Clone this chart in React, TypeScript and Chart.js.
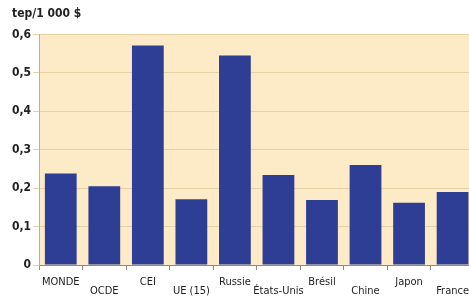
import React, { useEffect, useRef } from "react";
import { Chart, registerables } from "chart.js";

Chart.register(...registerables);

const categories = ["MONDE", "OCDE", "CEI", "UE (15)", "Russie", "États-Unis", "Brésil", "Chine", "Japon", "France"];
const values = [0.238, 0.205, 0.571, 0.171, 0.545, 0.234, 0.169, 0.26, 0.162, 0.19];
const yTicks = [0, 0.1, 0.2, 0.3, 0.4, 0.5, 0.6];
const unitLabel = "tep/1 000 $";

const FONT = "'Liberation Sans Narrow', 'DejaVu Sans Condensed', sans-serif";

const bgPlugin = {
  id: "plotBg",
  beforeDraw(chart: any) {
    const { ctx, chartArea } = chart;
    ctx.save();
    ctx.fillStyle = "#FCEBC6";
    ctx.fillRect(chartArea.left, chartArea.top, chartArea.right - chartArea.left, chartArea.bottom - chartArea.top);
    ctx.restore();
  },
};

export default function App() {
  const ref = useRef<HTMLCanvasElement | null>(null);
  useEffect(() => {
    if (!ref.current) return;
    const chart = new Chart(ref.current, {
      type: "bar",
      data: {
        labels: categories,
        datasets: [
          {
            data: values,
            backgroundColor: "#2D3E94",
            barPercentage: 0.73,
            categoryPercentage: 1,
          },
        ],
      },
      plugins: [bgPlugin],
      options: {
        responsive: false,
        animation: false,
        layout: { padding: { left: 12, right: 0, top: 0, bottom: 0 } },
        plugins: {
          legend: { display: false },
          tooltip: { enabled: false },
          title: {
            display: true,
            text: unitLabel,
            align: "start",
            color: "#222",
            font: { family: FONT, size: 12, weight: "bold" },
            padding: { top: 7, bottom: 13 },
          },
        },
        scales: {
          x: {
            offset: true,
            grid: {
              display: true,
              drawOnChartArea: false,
              drawTicks: true,
              tickLength: 5,
              color: "#8a8a8a",
              offset: true,
            },
            border: { display: true, color: "#8a8a8a" },
            ticks: {
              autoSkip: false,
              maxRotation: 0,
              minRotation: 0,
              padding: 7,
              color: "#222",
              font: { family: FONT, size: 11, lineHeight: 0.85 },
              callback: (_v: any, i: number) => (i % 2 === 1 ? ["", categories[i]] : [categories[i]]),
            },
            afterFit: (s: any) => {
              s.height = 35;
            },
          },
          y: {
            min: 0,
            max: 0.6,
            afterBuildTicks: (s: any) => {
              s.ticks = yTicks.map((v) => ({ value: v }));
            },
            grid: {
              color: "#E6D3A3",
              tickLength: 6,
            },
            border: { display: true, color: "#BFB08A" },
            ticks: {
              color: "#222",
              padding: 2,
              font: { family: FONT, size: 12, weight: "bold" },
              callback: (v: any) => (v === 0 ? "0" : Number(v).toFixed(1).replace(".", ",")),
            },
            afterFit: (s: any) => {
              s.width = 27;
            },
          },
        },
      },
    });
    return () => chart.destroy();
  }, []);
  return (
    <div style={{ position: "fixed", left: 0, top: 0, width: 469, height: 300, overflow: "hidden", background: "#fff" }}>
      <canvas ref={ref} width={476} height={300} style={{ display: "block" }} />
    </div>
  );
}
